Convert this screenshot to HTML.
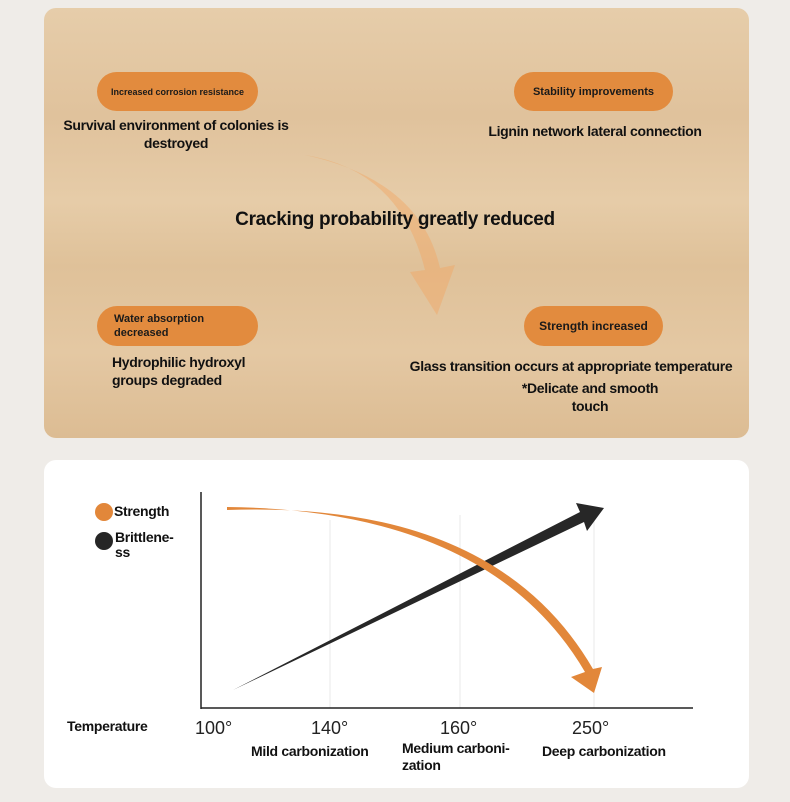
<!DOCTYPE html>
<html><head><style>
body{margin:0;width:790px;height:802px;background:#efece8;position:relative;overflow:hidden;font-family:"Liberation Sans",sans-serif;}
.wood{position:absolute;left:44px;top:8px;width:705px;height:430px;border-radius:12px;background:linear-gradient(180deg,#e6cdaa 0%,#e0c29c 25%,#e6cca8 45%,#dfc199 60%,#e4c8a3 80%,#dcbc93 100%);}
.pill{position:absolute;background:#e28b3e;border-radius:20px;color:#1a1a1a;font-weight:bold;display:flex;align-items:center;justify-content:center;}
.t{position:absolute;color:#111;font-weight:bold;text-align:center;letter-spacing:-0.3px;}
.card{position:absolute;left:44px;top:460px;width:705px;height:328px;background:#fff;border-radius:12px;}
.l{position:absolute;font-weight:bold;color:#111;font-size:14px;letter-spacing:-0.3px;}
.n{position:absolute;color:#222;font-size:18px;}
</style></head><body>
<div class="wood"></div>
<svg style="position:absolute;left:0;top:0" width="790" height="440">
<path d="M305,155 Q400,170 425,270 L410,272 L437,315 L455,265 L440,268 Q420,180 305,155Z" fill="#f1a664" opacity="0.45"/>
</svg>
<div class="pill" style="left:97px;top:72px;width:161px;height:39px;font-size:9px;">Increased corrosion resistance</div>
<div class="pill" style="left:514px;top:72px;width:159px;height:39px;font-size:11px;">Stability improvements</div>
<div class="pill" style="left:97px;top:306px;width:161px;height:40px;font-size:11px;justify-content:flex-start;padding-left:17px;box-sizing:border-box;line-height:14px;">Water absorption<br>decreased</div>
<div class="pill" style="left:524px;top:306px;width:139px;height:40px;font-size:12px;">Strength increased</div>
<div class="t" style="left:50px;top:116px;width:252px;font-size:14px;line-height:18px;">Survival environment of colonies is destroyed</div>
<div class="t" style="left:460px;top:123px;width:270px;font-size:14px;">Lignin network lateral connection</div>
<div class="t" style="left:200px;top:209px;width:390px;font-size:19px;">Cracking probability greatly reduced</div>
<div class="t" style="left:112px;top:353px;width:160px;font-size:14px;line-height:18px;text-align:left;">Hydrophilic hydroxyl groups degraded</div>
<div class="t" style="left:395px;top:358px;width:352px;font-size:14px;">Glass transition occurs at appropriate temperature</div>
<div class="t" style="left:510px;top:379px;width:160px;font-size:14px;line-height:18px;">*Delicate and smooth touch</div>
<div class="card"></div>
<svg style="position:absolute;left:0;top:0" width="790" height="802">
<line x1="330" y1="520" x2="330" y2="708" stroke="#e8e8e8"/>
<line x1="460" y1="515" x2="460" y2="708" stroke="#e8e8e8"/>
<line x1="594" y1="510" x2="594" y2="708" stroke="#e8e8e8"/>
<line x1="201" y1="492" x2="201" y2="709" stroke="#222" stroke-width="1.5"/>
<line x1="201" y1="708" x2="693" y2="708" stroke="#222" stroke-width="1.5"/>
<path d="M233,690 L580,512 L576,503 L604,508 L587,531 L584,522 Z" fill="#272727"/>
<path d="M227,507 Q490,510 585,672 L571,677 L594,693 L602,667 L593,669 Q495,500 227,510Z" fill="#e2873a"/>
<circle cx="104" cy="512" r="9" fill="#e2873a"/>
<circle cx="104" cy="541" r="9" fill="#262626"/>
</svg>
<div class="l" style="left:114px;top:503px;">Strength</div>
<div class="l" style="left:115px;top:530px;line-height:15px;">Brittlene-<br>ss</div>
<div class="l" style="left:67px;top:718px;">Temperature</div>
<div class="n" style="left:195px;top:718px;">100°</div>
<div class="n" style="left:311px;top:718px;">140°</div>
<div class="n" style="left:440px;top:718px;">160°</div>
<div class="n" style="left:572px;top:718px;">250°</div>
<div class="l" style="left:251px;top:743px;">Mild carbonization</div>
<div class="l" style="left:402px;top:740px;line-height:17px;">Medium carboni-<br>zation</div>
<div class="l" style="left:542px;top:743px;">Deep carbonization</div>
</body></html>
